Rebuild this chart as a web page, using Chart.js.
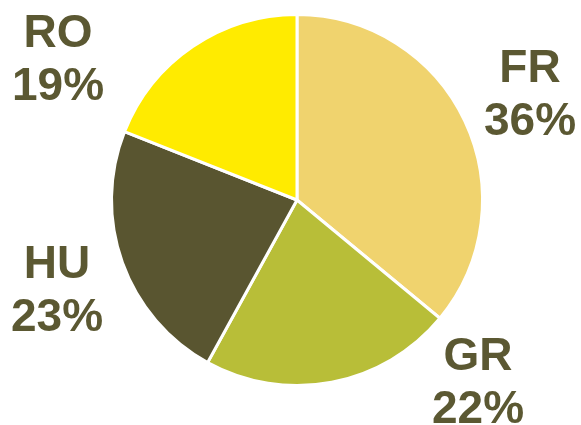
<!DOCTYPE html>
<html>
<head>
<meta charset="utf-8">
<script src="https://cdn.jsdelivr.net/npm/chart.js@4/dist/chart.umd.min.js"></script>
<style>
  html, body { margin: 0; padding: 0; background: #ffffff; }
  #wrap { width: 581px; height: 425px; }
</style>
</head>
<body>
<div id="wrap"><canvas id="c" width="581" height="425"></canvas></div>
<script>
// Country shares (percent), clockwise from 12 o'clock
const countries = ['FR', 'GR', 'HU', 'RO'];
const shares = [36, 22, 23, 19];
const sliceColors = ['#F0D36E', '#B8BE38', '#595530', '#FFEB00'];

// Where each two-line label sits, relative to the pie centre (first baseline)
const labelOffsets = [[233, -118], [181, 170], [-240, 78], [-239, -153]];

const labelPlugin = {
  id: 'sliceLabels',
  afterDatasetsDraw(chart) {
    const ctx = chart.ctx;
    const meta = chart.getDatasetMeta(0);
    const data = chart.data.datasets[0].data;
    const total = data.reduce((a, b) => a + b, 0);
    ctx.save();
    ctx.fillStyle = '#5B5832';
    ctx.font = 'bold 46px "Liberation Sans", Arial, sans-serif';
    ctx.textAlign = 'center';
    ctx.textBaseline = 'alphabetic';
    meta.data.forEach((arc, i) => {
      const off = labelOffsets[i];
      const x = arc.x + off[0];
      const y = arc.y + off[1];
      const pct = Math.round(data[i] / total * 100) + '%';
      ctx.fillText(chart.data.labels[i], x, y);
      ctx.fillText(pct, x, y + 53);
    });
    ctx.restore();
  }
};

new Chart(document.getElementById('c'), {
  type: 'pie',
  data: {
    labels: countries,
    datasets: [{
      data: shares,
      backgroundColor: sliceColors,
      borderColor: '#ffffff',
      borderWidth: 3
    }]
  },
  options: {
    responsive: false,
    animation: false,
    layout: { padding: { left: 110, right: 97, top: 13, bottom: 38 } },
    plugins: { legend: { display: false }, tooltip: { enabled: false } }
  },
  plugins: [labelPlugin]
});
</script>
</body>
</html>
